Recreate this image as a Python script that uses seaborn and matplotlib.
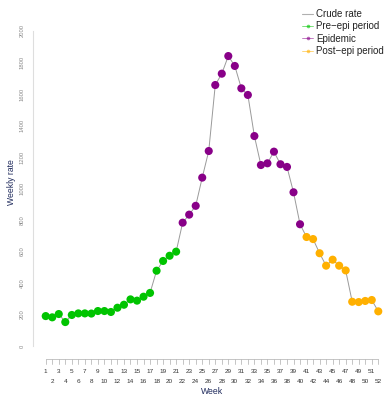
import matplotlib
matplotlib.use("Agg")
import matplotlib.pyplot as plt
from matplotlib.lines import Line2D
import seaborn as sns
import pandas as pd

# Weekly crude rates, weeks 1-52
weeks = list(range(1, 53))
rates = [190, 182, 203, 152, 197, 207, 207, 206, 222, 222, 216, 243, 262,
         296, 288, 313, 337, 478, 540, 573, 599, 783, 834, 890, 1069, 1238,
         1657, 1729, 1841, 1778, 1636, 1594, 1333, 1149, 1160, 1234, 1154,
         1137, 976, 773, 692, 679, 589, 510, 548, 510, 480, 281, 279, 286,
         292, 220]
periods = (["Pre\u2212epi period"] * 21 + ["Epidemic"] * 19
           + ["Post\u2212epi period"] * 12)
period_names = ["Pre\u2212epi period", "Epidemic", "Post\u2212epi period"]
period_colors = ["#00C400", "#880088", "#FFB000"]
y_ticks = [0, 200, 400, 600, 800, 1000, 1200, 1400, 1600, 1800, 2000]

df = pd.DataFrame({"week": weeks, "rate": rates, "period": periods})

sns.set_style("white")
plt.rcParams["font.family"] = ["Liberation Sans", "DejaVu Sans"]

fig = plt.figure(figsize=(3.87, 3.95), dpi=100)
ax = fig.add_axes([39.2 / 387, 1 - 352.3 / 395, 345.6 / 387, 327.6 / 395])

sns.lineplot(data=df, x="week", y="rate", ax=ax, color="#9a9a9a",
             linewidth=0.7, legend=False)
sns.scatterplot(data=df, x="week", y="rate", hue="period",
                hue_order=period_names, palette=period_colors, ax=ax,
                s=34, linewidth=0, legend=False, zorder=3)

ax.set_xlim(0, 53)
ax.set_ylim(-40, 2040)

for side in ["top", "right", "bottom"]:
    ax.spines[side].set_visible(False)
ax.spines["left"].set_position(("outward", 4.4))
ax.spines["left"].set_bounds(0, 2000)
ax.spines["left"].set_color("#dedede")
ax.spines["left"].set_linewidth(0.8)

ax.set_yticks(y_ticks)
ax.set_yticklabels([str(v) for v in y_ticks], rotation=90, va="center",
                   fontsize=4.2, color="#8a8a8a")
ax.tick_params(axis="y", length=3.5, width=0.6, color="#dedede", pad=2.5)

# Week axis drawn below the plotting area with alternating label rows
ax.set_xticks([])
ax.set_xlabel("")
ax.set_ylabel("")
trans = ax.get_xaxis_transform()
y0 = -0.0210
ax.plot([weeks[0], weeks[-1]], [y0, y0], transform=trans, color="#bbbbbb",
        linewidth=0.6, clip_on=False)
for w in weeks:
    ax.plot([w, w], [y0, y0 - 0.0145], transform=trans, color="#bbbbbb",
            linewidth=0.6, clip_on=False)
    row = -0.060 if w % 2 == 1 else -0.088
    ax.text(w, row, str(w), transform=trans, ha="center", va="center",
            fontsize=4.6, color="#333333")

fig.text(212 / 387, 1 - 391 / 395, "Week", ha="center", va="center",
         fontsize=6.2, color="#1f2a5c")
fig.text(12 / 387, 1 - 182 / 395, "Weekly rate", ha="center", va="center",
         rotation=90, fontsize=6.2, color="#1f2a5c")

handles = [Line2D([0], [0], color="#b0b0b0", linewidth=0.8)]
for c in period_colors:
    handles.append(Line2D([0], [0], color=c, linewidth=0.6, alpha=0.6,
                          marker="o", markersize=2.6, markerfacecolor=c,
                          markeredgewidth=0))
labels = ["Crude rate"] + period_names
leg = fig.legend(handles, labels, loc="upper left",
                 bbox_to_anchor=(302 / 387, 1 - 9 / 395), frameon=False,
                 fontsize=7.0, handlelength=1.15, handletextpad=0.3,
                 labelspacing=0.25, borderaxespad=0, borderpad=0)
for t in leg.get_texts():
    t.set_color("#222222")

fig.savefig("out.png", dpi=100)
